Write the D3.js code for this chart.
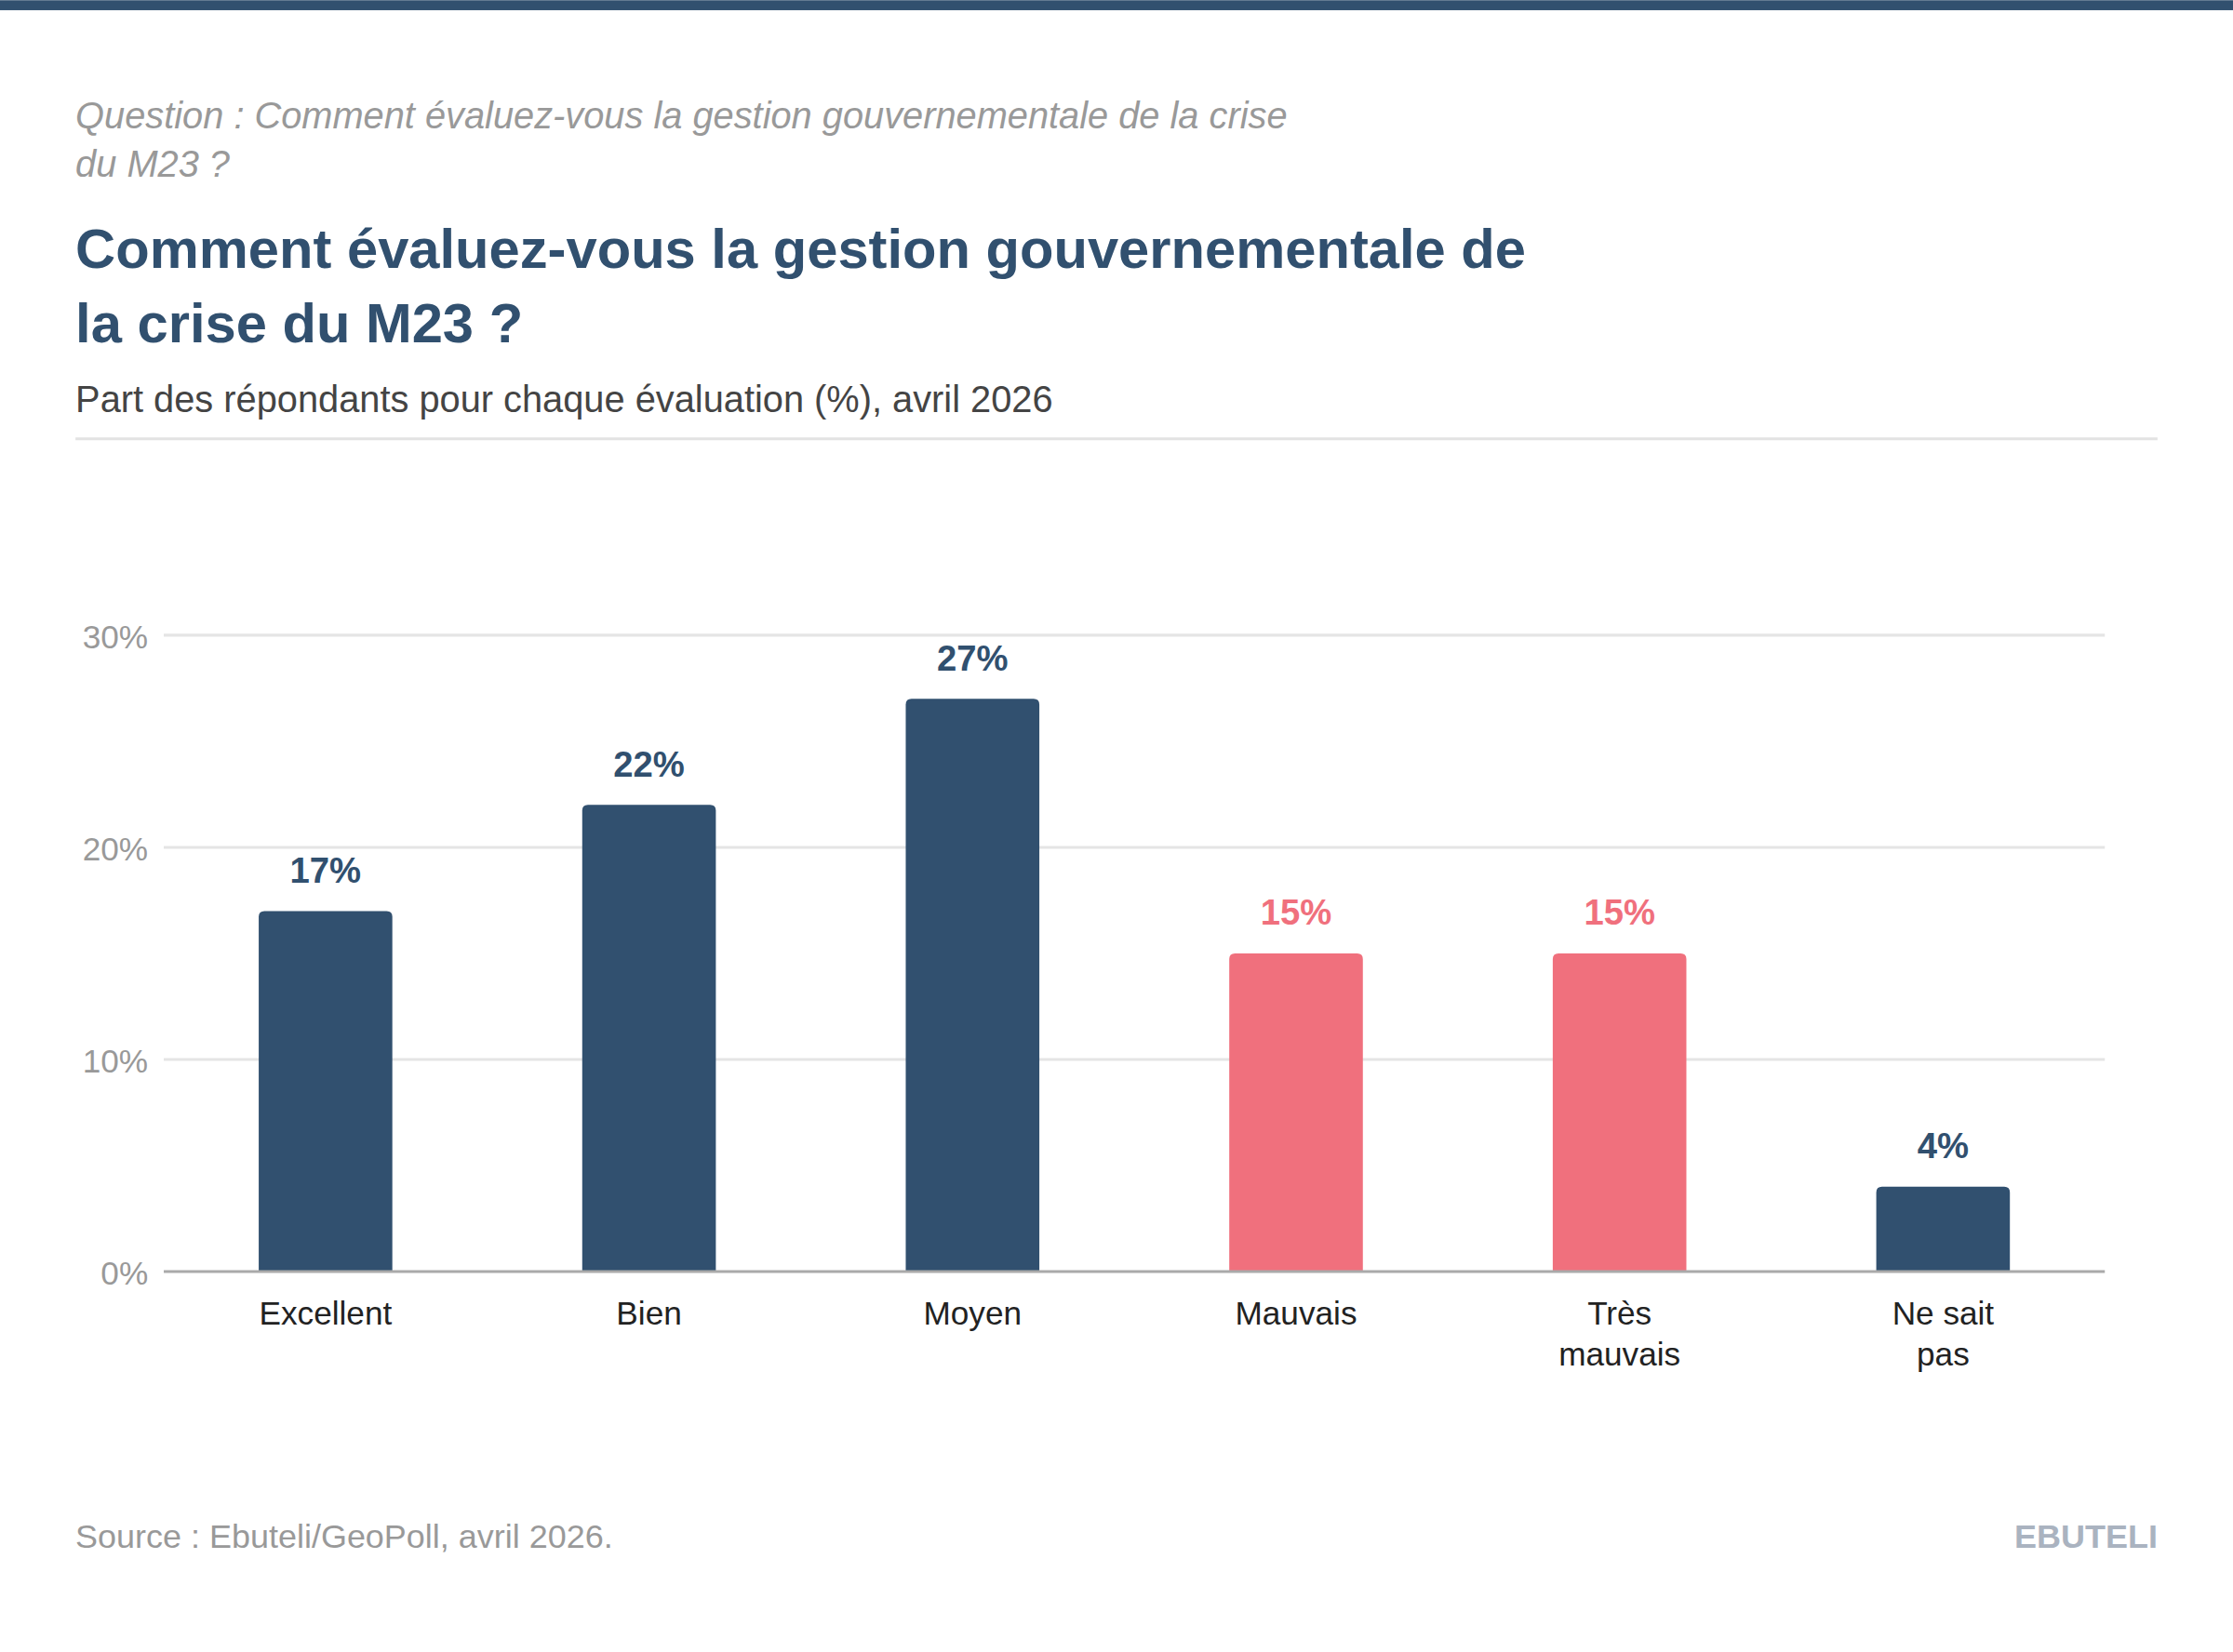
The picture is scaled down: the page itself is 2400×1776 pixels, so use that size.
<!DOCTYPE html>
<html><head><meta charset="utf-8">
<script src="https://cdn.jsdelivr.net/npm/d3@7"></script>
<style>body{margin:0;background:#fff}svg{display:block;font-family:"Liberation Sans",Arial,sans-serif}</style>
</head><body>
<svg id="chart" width="2400" height="1776" viewBox="0 0 1568 1160"></svg>
<script>
const categories = ["Excellent", "Bien", "Moyen", "Mauvais", "Très mauvais", "Ne sait pas"];
const categoryLines = [["Excellent"], ["Bien"], ["Moyen"], ["Mauvais"], ["Très", "mauvais"], ["Ne sait", "pas"]];
const values = [17, 22, 27, 15, 15, 4];
const negative = [false, false, false, true, true, false];
const yTicks = [0, 10, 20, 30];

const navy = "#31506f", pink = "#f0707d";
const svg = d3.select("#chart");
const m = { left: 115, right: 1478, top: 446, bottom: 893 };

svg.append("rect").attr("width", 1568).attr("height", 7).attr("fill", navy);

svg.append("text").attr("x", 53).attr("y", 90).attr("fill", "#999").style("font-size", "26px").style("font-style", "italic")
  .text("Question : Comment évaluez-vous la gestion gouvernementale de la crise");
svg.append("text").attr("x", 53).attr("y", 124).attr("fill", "#999").style("font-size", "26px").style("font-style", "italic")
  .text("du M23 ?");
svg.append("text").attr("x", 53).attr("y", 188).attr("fill", navy).style("font-size", "39px").style("font-weight", "bold")
  .text("Comment évaluez-vous la gestion gouvernementale de");
svg.append("text").attr("x", 53).attr("y", 240).attr("fill", navy).style("font-size", "39px").style("font-weight", "bold")
  .text("la crise du M23 ?");
svg.append("text").attr("x", 53).attr("y", 289).attr("fill", "#444").style("font-size", "26px")
  .text("Part des répondants pour chaque évaluation (%), avril 2026");
svg.append("line").attr("x1", 53).attr("x2", 1515).attr("y1", 308).attr("y2", 308).attr("stroke", "#e3e3e3").attr("stroke-width", 2);

const x = d3.scaleBand().domain(categories).range([m.left, m.right]).paddingInner(0.587).paddingOuter(0.2935);
const y = d3.scaleLinear().domain([0, 30]).range([m.bottom, m.top]);

const grid = svg.append("g");
grid.selectAll("line").data(yTicks.filter(d => d > 0)).join("line")
  .attr("x1", m.left).attr("x2", m.right).attr("y1", d => y(d)).attr("y2", d => y(d))
  .attr("stroke", "#e5e5e5").attr("stroke-width", 2);
grid.selectAll("text").data(yTicks).join("text")
  .attr("x", 104).attr("y", d => y(d) + 9).attr("text-anchor", "end")
  .attr("fill", "#999").style("font-size", "23px").text(d => d + "%");

svg.selectAll(".bar").data(values).join("path").attr("class", "bar")
  .attr("fill", (d, i) => negative[i] ? pink : navy)
  .attr("d", (d, i) => {
    const x0 = x(categories[i]), w = x.bandwidth(), y0 = y(d), h = y(0) - y0, r = 4;
    return `M${x0},${y0 + h}V${y0 + r}Q${x0},${y0} ${x0 + r},${y0}H${x0 + w - r}Q${x0 + w},${y0} ${x0 + w},${y0 + r}V${y0 + h}Z`;
  });

svg.selectAll(".val").data(values).join("text").attr("class", "val")
  .attr("x", (d, i) => x(categories[i]) + x.bandwidth() / 2).attr("y", d => y(d) - 20)
  .attr("text-anchor", "middle").attr("fill", (d, i) => negative[i] ? pink : navy)
  .style("font-size", "25px").style("font-weight", "bold").text(d => d + "%");

svg.append("line").attr("x1", m.left).attr("x2", m.right).attr("y1", y(0)).attr("y2", y(0))
  .attr("stroke", "#aaa").attr("stroke-width", 2);

categoryLines.forEach((lines, i) => {
  const t = svg.append("text").attr("text-anchor", "middle").attr("fill", "#222").style("font-size", "23px");
  lines.forEach((l, j) => t.append("tspan").attr("x", x(categories[i]) + x.bandwidth() / 2).attr("y", 930 + j * 29).text(l));
});

svg.append("text").attr("x", 53).attr("y", 1087).attr("fill", "#999").style("font-size", "23.5px")
  .text("Source : Ebuteli/GeoPoll, avril 2026.");
svg.append("text").attr("x", 1515).attr("y", 1087).attr("text-anchor", "end").attr("fill", "#aab3c0")
  .style("font-size", "23.5px").style("font-weight", "bold").text("EBUTELI");
</script>
</body></html>
